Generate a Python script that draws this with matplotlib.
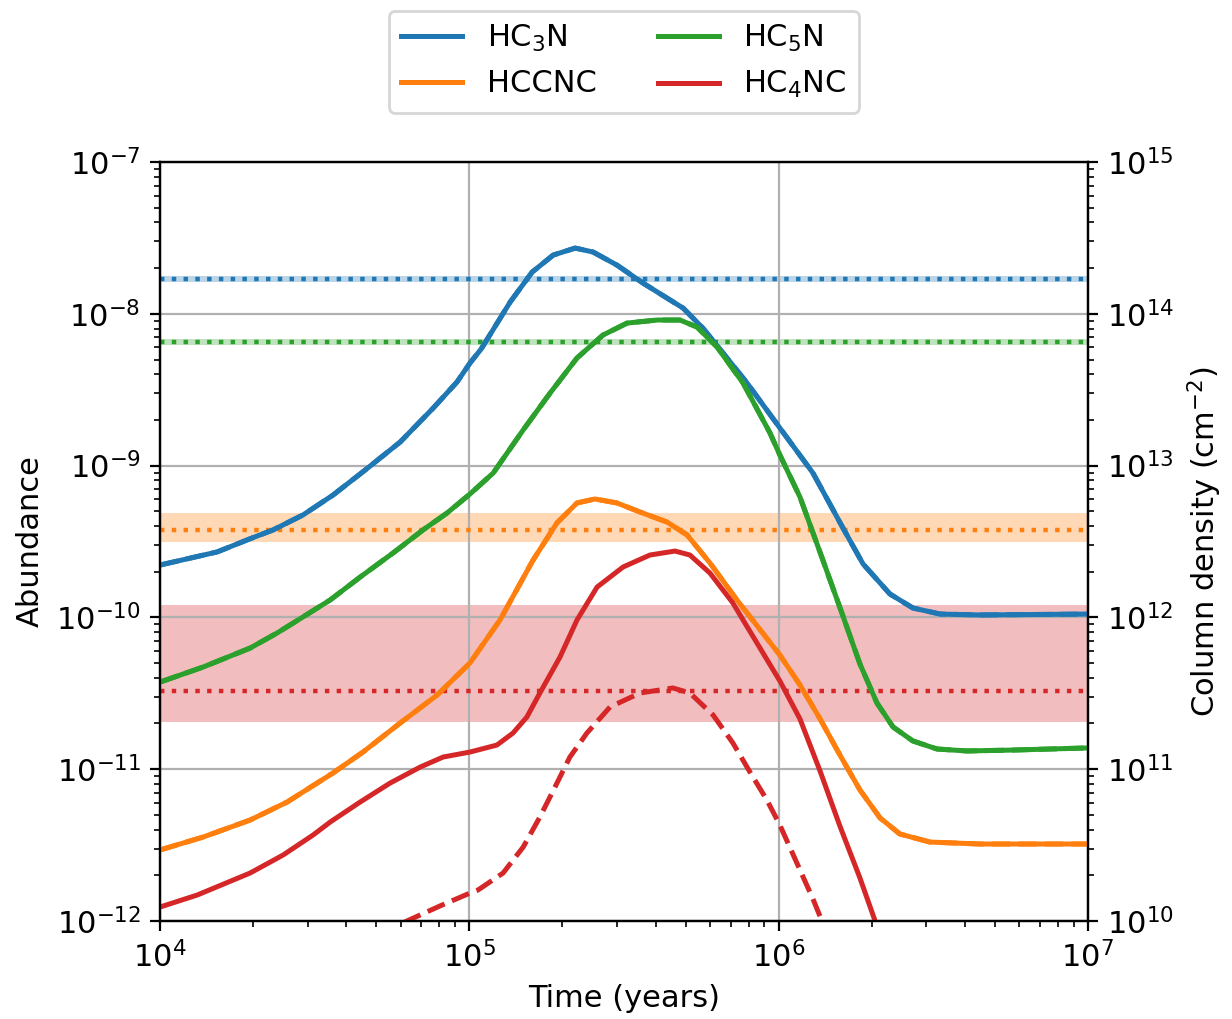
import numpy as np
import matplotlib.pyplot as plt

plt.rcParams['font.size'] = 11
plt.rcParams['lines.solid_joinstyle'] = 'round'
plt.rcParams['lines.dash_joinstyle'] = 'round'

# model curves: log10(time in yr), log10(abundance)
log_t_hc3n = [4.000, 4.184, 4.297, 4.365, 4.462, 4.559, 4.663, 4.776, 4.883, 4.960,
              5.002, 5.038, 5.132, 5.203, 5.271, 5.342, 5.400, 5.477, 5.561, 5.649,
              5.691, 5.755, 5.820, 5.898, 6.004, 6.111, 6.208, 6.273, 6.360, 6.434,
              6.522, 6.651, 7.000]
log_x_hc3n = [-9.655, -9.569, -9.477, -9.424, -9.325, -9.194, -9.029, -8.845, -8.621, -8.449,
              -8.324, -8.232, -7.922, -7.725, -7.613, -7.567, -7.593, -7.679, -7.797, -7.909,
              -7.962, -8.094, -8.258, -8.456, -8.752, -9.049, -9.411, -9.648, -9.846, -9.938,
              -9.978, -9.984, -9.978]

log_t_hccnc = [4.000, 4.139, 4.291, 4.411, 4.559, 4.656, 4.776, 4.896, 5.002, 5.099,
               5.206, 5.283, 5.348, 5.406, 5.477, 5.552, 5.639, 5.704, 5.778, 5.865,
               6.004, 6.069, 6.134, 6.198, 6.263, 6.328, 6.392, 6.489, 6.651, 7.000]
log_x_hccnc = [-11.532, -11.447, -11.335, -11.216, -11.025, -10.887, -10.696, -10.511, -10.300, -10.017,
               -9.622, -9.378, -9.246, -9.220, -9.246, -9.306, -9.372, -9.457, -9.642, -9.885,
               -10.248, -10.445, -10.669, -10.906, -11.137, -11.321, -11.427, -11.480, -11.493, -11.493]

log_t_hc5n = [4.000, 4.139, 4.291, 4.378, 4.462, 4.550, 4.647, 4.753, 4.850, 4.928,
              5.002, 5.077, 5.174, 5.261, 5.348, 5.432, 5.510, 5.607, 5.681, 5.736,
              5.801, 5.885, 5.972, 6.004, 6.069, 6.143, 6.208, 6.263, 6.318, 6.370,
              6.434, 6.512, 6.609, 6.758, 7.000]
log_x_hc5n = [-10.426, -10.327, -10.202, -10.103, -9.997, -9.885, -9.734, -9.576, -9.424, -9.312,
              -9.187, -9.049, -8.765, -8.522, -8.291, -8.140, -8.061, -8.041, -8.041, -8.087,
              -8.219, -8.456, -8.785, -8.930, -9.207, -9.622, -9.991, -10.307, -10.564, -10.722,
              -10.814, -10.867, -10.880, -10.874, -10.860]

log_t_hc4nc = [4.000, 4.120, 4.291, 4.398, 4.495, 4.550, 4.647, 4.744, 4.841, 4.915,
               5.002, 5.089, 5.141, 5.186, 5.228, 5.293, 5.348, 5.413, 5.497, 5.584,
               5.665, 5.713, 5.778, 5.852, 5.885, 6.004, 6.069, 6.134, 6.198, 6.263,
               6.312, 6.340]
log_x_hc4nc = [-11.908, -11.829, -11.684, -11.565, -11.433, -11.348, -11.216, -11.091, -10.986, -10.920,
               -10.887, -10.841, -10.762, -10.656, -10.498, -10.261, -10.017, -9.800, -9.668, -9.589,
               -9.563, -9.589, -9.708, -9.905, -10.017, -10.419, -10.669, -11.012, -11.374, -11.717,
               -12.000, -12.180]

# second (dashed) model for HC4NC
log_t_hc4nc_b = [4.711, 4.798, 4.905, 5.002, 5.028, 5.109, 5.174, 5.228, 5.277, 5.325,
                 5.380, 5.455, 5.552, 5.658, 5.713, 5.788, 5.852, 5.907, 5.962, 6.004,
                 6.059, 6.111, 6.140, 6.153]
log_x_hc4nc_b = [-12.090, -12.000, -11.901, -11.816, -11.796, -11.684, -11.513, -11.315, -11.117, -10.920,
                 -10.762, -10.590, -10.498, -10.465, -10.498, -10.643, -10.827, -11.018, -11.203, -11.368,
                 -11.618, -11.855, -12.000, -12.090]

# observed abundances (dotted) with lower / upper limits (shaded)
labels = ['HC$_3$N', 'HCCNC', 'HC$_5$N', 'HC$_4$NC']
colors = ['tab:blue', 'tab:orange', 'tab:green', 'tab:red']
obs_value = [1.69e-8, 3.77e-10, 6.52e-9, 3.27e-11]
obs_low = [1.61e-8, 3.16e-10, 6.22e-9, 2.05e-11]
obs_high = [1.78e-8, 4.90e-10, 6.82e-9, 1.21e-10]


def main():
    solid = [(log_t_hc3n, log_x_hc3n), (log_t_hccnc, log_x_hccnc),
             (log_t_hc5n, log_x_hc5n), (log_t_hc4nc, log_x_hc4nc)]
    # the second model overlaps the first for all but HC4NC
    dashed = [(log_t_hc3n, log_x_hc3n), (log_t_hccnc, log_x_hccnc),
              (log_t_hc5n, log_x_hc5n), (log_t_hc4nc_b, log_x_hc4nc_b)]

    fig, ax = plt.subplots(figsize=(6.16, 5.095), dpi=200)
    fig.subplots_adjust(left=0.130, right=0.883, bottom=0.0962, top=0.841)

    for i in range(4):
        ax.axhspan(obs_low[i], obs_high[i], color=colors[i], alpha=0.3, lw=0, zorder=1)
        ax.axhline(obs_value[i], color=colors[i], ls=':', lw=1.6, zorder=2)

    for i in range(4):
        t, x = solid[i]
        ax.plot(10**np.array(t), 10**np.array(x), color=colors[i], lw=1.8, label=labels[i], zorder=3)
        t, x = dashed[i]
        ax.plot(10**np.array(t), 10**np.array(x), color=colors[i], lw=1.8, ls='--', zorder=3)

    ax.set_xscale('log')
    ax.set_yscale('log')
    ax.set_xlim(1e4, 1e7)
    ax.set_ylim(1e-12, 1e-7)
    ax.grid(True)
    ax.set_xlabel('Time (years)')
    ax.set_ylabel('Abundance')

    ax2 = ax.twinx()
    ax2.set_yscale('log')
    ax2.set_ylim(1e10, 1e15)
    ax2.set_ylabel('Column density (cm$^{-2}$)')

    leg = ax.legend(loc='lower center', bbox_to_anchor=(0.5, 1.045), ncol=2)
    for line in leg.get_lines():
        line.set_linewidth(1.8)

    fig.savefig('out.png', dpi=200)


main()
